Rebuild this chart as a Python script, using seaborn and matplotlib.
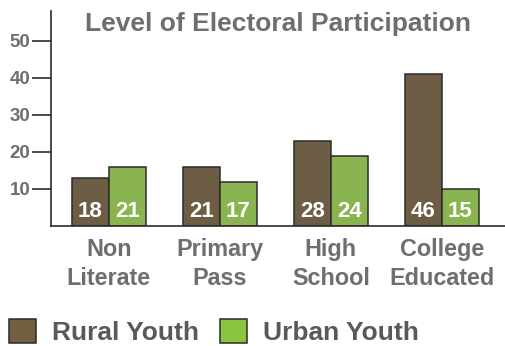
import pandas as pd
import matplotlib
matplotlib.use("Agg")
import matplotlib.pyplot as plt
import seaborn as sns
from matplotlib.patches import Patch

# chart values
categories = ["Non\nLiterate", "Primary\nPass", "High\nSchool", "College\nEducated"]
groups = ["Rural Youth", "Urban Youth"]
rural_height = [13, 16, 23, 41]
urban_height = [16, 12, 19, 10]
rural_labels = [18, 21, 28, 46]
urban_labels = [21, 17, 24, 15]
y_ticks = [10, 20, 30, 40, 50]

RURAL = "#735f3d"
URBAN = "#8bc53f"
EDGE = "#2b2b2b"
GREY = "#6d6e71"


def main():
    df = pd.DataFrame({
        "level": categories * 2,
        "value": rural_height + urban_height,
        "group": [groups[0]] * len(categories) + [groups[1]] * len(categories),
    })

    sns.set_style("white")
    plt.rcParams["font.family"] = ["Liberation Sans", "DejaVu Sans"]
    plt.rcParams["font.weight"] = "bold"

    fig = plt.figure(figsize=(5.05, 3.46), dpi=100)
    ax = fig.add_axes([51 / 505, 1 - 226 / 346, 1 - 51 / 505, 215 / 346])

    sns.barplot(
        data=df, x="level", y="value", hue="group",
        palette={groups[0]: RURAL, groups[1]: URBAN},
        width=0.667, gap=0, errorbar=None, legend=False,
        edgecolor=EDGE, linewidth=1.1, ax=ax,
    )

    # value labels sit near the bar base
    for container, labels in zip(ax.containers, [rural_labels, urban_labels]):
        for patch, lab in zip(container, labels):
            ax.text(patch.get_x() + patch.get_width() / 2, 2.4, str(lab),
                    ha="center", va="baseline", color="white",
                    fontsize=16, fontweight="bold")

    ax.set_xlim(-0.52, 3.568)
    ax.set_ylim(0, 58.1)
    ax.set_yticks(y_ticks)
    ax.set_xlabel("")
    ax.set_ylabel("")

    for side in ["top", "right"]:
        ax.spines[side].set_visible(False)
    for side in ["left", "bottom"]:
        ax.spines[side].set_color(EDGE)
        ax.spines[side].set_linewidth(1.2)

    ax.tick_params(axis="y", direction="out", length=13.7, width=1.2, color=EDGE,
                   labelcolor=GREY, labelsize=13.5, pad=1, left=True)
    ax.tick_params(axis="x", length=0, labelcolor=GREY, labelsize=16.8, pad=8.5)
    for lab in ax.get_xticklabels():
        lab.set_linespacing(1.37)
        lab.set_fontweight("bold")
    for lab in ax.get_yticklabels():
        lab.set_fontweight("bold")

    fig.text(0.551, 1 - 30.7 / 346, "Level of Electoral Participation",
             ha="center", va="baseline", color=GREY, fontsize=19, fontweight="bold")

    handles = [Patch(facecolor=RURAL, edgecolor=EDGE, linewidth=1.1),
               Patch(facecolor=URBAN, edgecolor=EDGE, linewidth=1.1)]
    fig.legend(handles, groups, loc="center left", bbox_to_anchor=(9.3 / 505, 1 - 332 / 346),
               ncol=2, frameon=False, borderpad=0, borderaxespad=0,
               handlelength=1.02, handleheight=1.02, handletextpad=0.6, columnspacing=0.8,
               prop={"size": 19, "weight": "bold"}, labelcolor="#58595b")

    fig.savefig("out.png", dpi=100)
    plt.close(fig)


if __name__ == "__main__":
    main()
